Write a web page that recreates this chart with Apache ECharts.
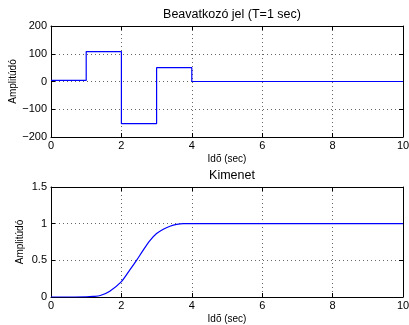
<!DOCTYPE html>
<html>
<head>
<meta charset="utf-8">
<script src="https://cdn.jsdelivr.net/npm/echarts@6/dist/echarts.min.js"></script>
<style>
  html, body { margin: 0; padding: 0; background: #fff; }
  #chart { width: 409px; height: 325px; }
</style>
</head>
<body>
<div id="chart"></div>
<script>
// control signal: piecewise constant, one level per 1 s sample
const controlTimes = [0, 1, 2, 3, 4, 10];
const controlValues = [4, 108, -152, 50, 0, 0];

// plant output
const outputTimes = [0, 0.5, 1.0, 1.2, 1.4, 1.67, 2.0, 2.24, 2.43, 2.62, 2.81, 3.0, 3.19, 3.38, 3.57, 3.76, 4.0, 10];
const outputValues = [0, 0, 0.002, 0.008, 0.02, 0.08, 0.21, 0.37, 0.5, 0.64, 0.77, 0.865, 0.925, 0.965, 0.99, 1.0, 1.0, 1.0];

const FONT = "Liberation Sans";
const fmtMinus = (v) => String(v).replace("-", "\u2212");

const chart = echarts.init(document.getElementById("chart"), null, { renderer: "canvas" });

const grids = [
  { left: 51, right: 6, top: 26, height: 111, outerBoundsMode: "none", containLabel: false },
  { left: 51, right: 6, top: 187, height: 110, outerBoundsMode: "none", containLabel: false },
];

function xMain(gridIndex) {
  return {
    gridIndex, type: "value", min: 0, max: 10, interval: 2,
    name: "Idõ (sec)", nameLocation: "middle", nameGap: 17, nameMoveOverlap: false,
    nameTextStyle: { color: "#000", fontFamily: FONT, fontSize: 10 },
    axisLine: { onZero: false, lineStyle: { color: "#000", width: 1 } },
    axisTick: { inside: true, length: 4, lineStyle: { color: "#000" } },
    axisLabel: { color: "#000", fontFamily: FONT, fontSize: 11, margin: 3 },
    splitLine: { show: true, lineStyle: { color: "#000", type: [1, 3], width: 1, opacity: 0.6 } },
  };
}
function xTop(gridIndex) {
  return {
    gridIndex, type: "value", min: 0, max: 10, interval: 2, position: "top",
    axisLine: { onZero: false, lineStyle: { color: "#000", width: 1 } },
    axisTick: { inside: true, length: 4, lineStyle: { color: "#000" } },
    axisLabel: { show: false }, splitLine: { show: false },
  };
}
function yMain(gridIndex, min, max, interval) {
  return {
    gridIndex, type: "value", min, max, interval,
    name: "Amplitúdó", nameLocation: "middle", nameGap: gridIndex === 0 ? 33 : 26,
    nameMoveOverlap: false,
    nameTextStyle: { color: "#000", fontFamily: FONT, fontSize: 10 },
    axisLine: { onZero: false, lineStyle: { color: "#000", width: 1 } },
    axisTick: { inside: true, length: 4, lineStyle: { color: "#000" } },
    axisLabel: { color: "#000", fontFamily: FONT, fontSize: 11, margin: 4, formatter: fmtMinus },
    splitLine: { show: true, lineStyle: { color: "#000", type: [1, 3], width: 1, opacity: 0.6 } },
  };
}
function yRight(gridIndex, min, max, interval) {
  return {
    gridIndex, type: "value", min, max, interval, position: "right",
    axisLine: { onZero: false, lineStyle: { color: "#000", width: 1 } },
    axisTick: { inside: true, length: 4, lineStyle: { color: "#000" } },
    axisLabel: { show: false }, splitLine: { show: false },
  };
}

chart.setOption({
  animation: false,
  title: [
    { text: "Beavatkozó jel (T=1 sec)", left: 227, top: 3, textAlign: "center",
      textStyle: { color: "#000", fontFamily: FONT, fontSize: 12.5, fontWeight: "normal" } },
    { text: "Kimenet", left: 227, top: 164, textAlign: "center",
      textStyle: { color: "#000", fontFamily: FONT, fontSize: 12.5, fontWeight: "normal" } },
  ],
  grid: grids,
  xAxis: [xMain(0), xTop(0), xMain(1), xTop(1)],
  yAxis: [yMain(0, -200, 200, 100), yRight(0, -200, 200, 100), yMain(1, 0, 1.5, 0.5), yRight(1, 0, 1.5, 0.5)],
  series: [
    {
      type: "line", xAxisIndex: 0, yAxisIndex: 0, step: "end", showSymbol: false,
      lineStyle: { color: "#0000ff", width: 1.2 },
      data: controlTimes.map((t, i) => [t, controlValues[i]]),
    },
    {
      type: "line", xAxisIndex: 2, yAxisIndex: 2, smooth: 0.3, showSymbol: false,
      lineStyle: { color: "#0000ff", width: 1.2 },
      data: outputTimes.map((t, i) => [t, outputValues[i]]),
    },
  ],
});
</script>
</body>
</html>
